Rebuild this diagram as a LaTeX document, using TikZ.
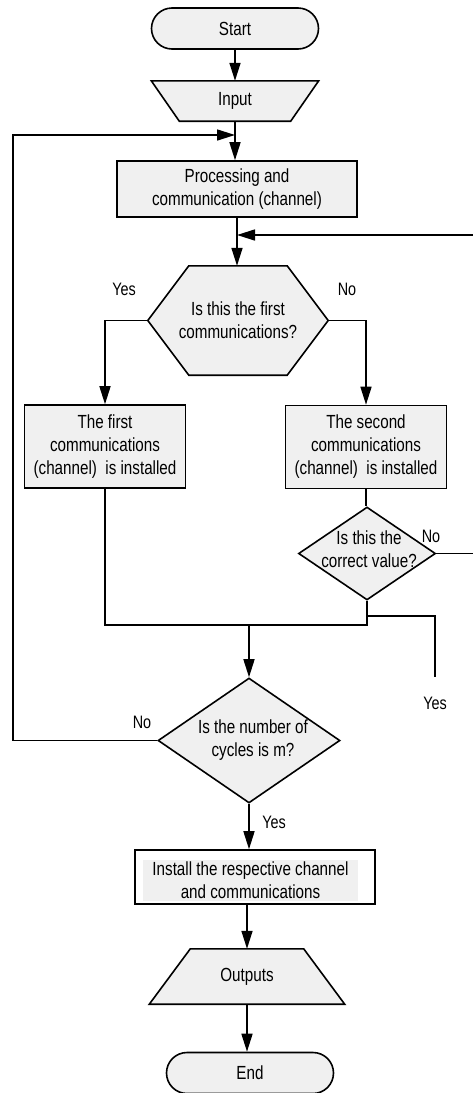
\documentclass[tikz,border=0pt]{standalone}
\usepackage{fontspec}
\setmainfont[FakeStretch=0.8]{Liberation Sans}
\usetikzlibrary{shapes.geometric,shapes.misc,arrows.meta,backgrounds}
\definecolor{shapegray}{RGB}{240,240,240}

\begin{document}
\begin{tikzpicture}[
    x=1pt, y=-1pt,
    every node/.style={font=\fontsize{19}{23}\selectfont, align=center, inner sep=0pt},
    base/.style={draw, line width=1.6pt, fill=shapegray},
    terminal/.style={base, rounded rectangle, minimum width=167pt, minimum height=41pt},
    process/.style={base, rectangle, minimum width=161pt, minimum height=83pt},
    decision/.style={base, diamond},
    lbl/.style={font=\fontsize{18}{22}\selectfont},
    line/.style={line width=1.6pt},
    arrow/.style={line, -{Triangle[length=18pt,width=11pt]}}
]
\useasboundingbox (0,0) rectangle (472,1093);

\node[terminal] (start) at (235,28.5) {Start};
\node[minimum width=167pt, minimum height=40pt] (input) at (235,101) {Input};
\node[process, minimum width=240pt, minimum height=56pt] (proc) at (237,189) {Processing and\\communication (channel)};
\node[minimum width=180pt, minimum height=109pt] (firstq) at (238,320.5) {Is this the first\\communications?};
\node[process] (firstbox) at (105,446.5) {The first\\communications\\(channel)~~is installed};
\node[process] (secondbox) at (366,447) {The second\\communications\\(channel)~~is installed};
\node[decision, minimum width=137pt, minimum height=93pt,
    label={[yshift=4pt, xshift=2pt]center:{Is this the\\correct value?}}] (correct) at (367,553.5) {};
\node[decision, minimum width=182pt, minimum height=125pt,
    label={[xshift=4pt]center:{Is the number of\\cycles is m?}}] (cycles) at (249,740.5) {};
\node[base, fill=white, minimum width=240pt, minimum height=54pt] (install) at (255,877) {};
\node[fill=shapegray, minimum width=215pt, minimum height=41pt] (installtxt) at (250.5,880.5) {Install the respective channel\\and communications};
\node[minimum width=195pt, minimum height=55pt] (outputs) at (247,976.5) {Outputs};
\node[terminal] (end) at (250,1073) {End};

\begin{scope}[on background layer]
\draw[base] (input.north west) -- (input.north east) -- ([xshift=-28pt]input.south east)
    -- ([xshift=28pt]input.south west) -- cycle;
\draw[base] (firstq.west) -- ([xshift=41pt]firstq.north west) -- ([xshift=-41pt]firstq.north east)
    -- (firstq.east) -- ([xshift=-41pt]firstq.south east) -- ([xshift=41pt]firstq.south west) -- cycle;
\draw[base] (outputs.south west) -- (outputs.south east) -- ([xshift=-41pt]outputs.north east)
    -- ([xshift=41pt]outputs.north west) -- cycle;
\end{scope}

\node[lbl] (yesfirst) at (124,289) {Yes};
\node[lbl] (nofirst) at (347,289) {No};
\node[lbl] (nocorrect) at (431,536) {No};
\node[lbl] (yescorrect) at (435,703) {Yes};
\node[lbl] (nocycles) at (142,722) {No};
\node[lbl] (yescycles) at (274,822) {Yes};

\coordinate (loopin) at (235,135);
\coordinate (back) at (237,235);
\coordinate (join) at (249,625);
\coordinate (yesend) at (435,677);

\draw[arrow] (start) -- (input);
\draw[arrow] (input.south) -- (input.south |- proc.north);
\draw[arrow] (proc.south) -- (proc.south |- firstq.north);
\draw[arrow] (firstq.west) -| (firstbox.north);
\draw[arrow] (firstq.east) -| (secondbox.north);
\draw[line] (secondbox.south) -- (secondbox.south |- correct.north);
\draw[line] (firstbox.south) |- (correct.south |- join) -- (correct.south);
\draw[line] (correct.south |- 0,616) -| (yesend);
\draw[arrow] (correct.east) -- ++(40,0) |- (back);
\draw[arrow] (join) -- (cycles.north);
\draw[arrow] (cycles.west) -- (cycles.west -| 13,0) |- (loopin);
\draw[arrow] (cycles.south) -- (cycles.south |- install.north);
\draw[arrow] (install.south -| outputs.north) -- (outputs.north);
\draw[arrow] (outputs.south) -- (outputs.south |- end.north);
\end{tikzpicture}
\end{document}
